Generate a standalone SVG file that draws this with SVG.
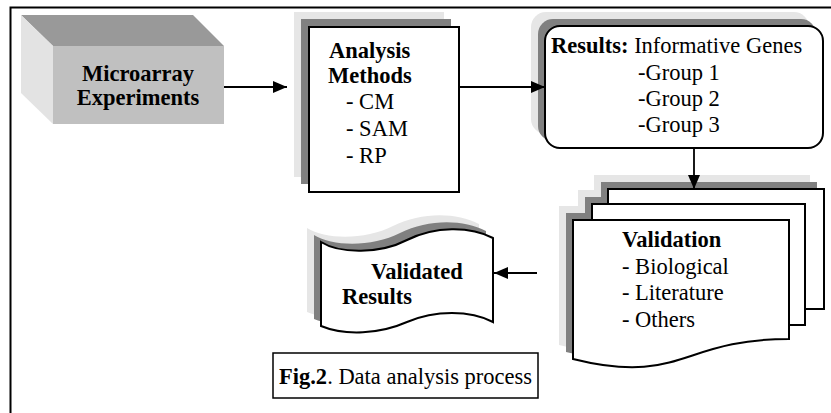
<svg xmlns="http://www.w3.org/2000/svg" width="831" height="413" viewBox="0 0 831 413">
  <style>
    .t { font-family: "Liberation Serif", "Times New Roman", serif; font-size: 22.5px; fill: #000; }
    .b { font-weight: bold; }
    .edge { stroke: #000; stroke-width: 2; fill: #fff; }
    .sh1 { fill: #e6e6e6; }
    .sh2 { fill: #808080; }
    .wire { stroke: #000; stroke-width: 1.8; fill: none; marker-end: url(#arrow); }
  </style>
  <defs>
    <marker id="arrow" markerUnits="userSpaceOnUse" markerWidth="14" markerHeight="12" refX="14" refY="6" orient="auto">
      <path d="M0,0 L14,6 L0,12 Z" fill="#000"/>
    </marker>
    <!-- stacked documents -->
    <rect id="pageBack" x="608" y="189" width="216" height="120"/>
    <rect id="pageMid" x="592" y="204" width="213" height="121"/>
    <path id="pageFront" d="M573,220 H789 V339 C681,339 681,386 573,359 Z"/>
    <!-- punched tape -->
    <path id="tape" d="M321,242 C340,254 380,254 407,240 C435,226 470,226 493,238 L493,322 C470,310 435,310 407,322 C380,334 345,336 321,326 Z"/>
  </defs>

  <rect x="0" y="0" width="831" height="413" fill="#fff"/>
  <!-- outer frame -->
  <rect x="10.5" y="7.5" width="900" height="500" fill="none" stroke="#000" stroke-width="2"/>

  <g id="microarray">
    <polygon points="21,15 193,15 224,46 53,46" fill="#999999"/>
    <polygon points="21,15 53,46 53,124 21,93" fill="#e3e3e3"/>
    <rect x="53" y="46" width="171" height="78" fill="#c0c0c0"/>
    <text class="t b" x="138" y="81" text-anchor="middle">Microarray</text>
    <text class="t b" x="138" y="105" text-anchor="middle">Experiments</text>
  </g>

  <g id="methods">
    <rect class="sh1" x="294" y="12" width="150" height="165"/>
    <rect class="sh2" x="301" y="19" width="150" height="165"/>
    <rect class="edge" x="309" y="27" width="150" height="165"/>
    <text class="t b" x="329" y="58">Analysis</text>
    <text class="t b" x="328" y="83">Methods</text>
    <text class="t" x="346" y="109">- CM</text>
    <text class="t" x="346" y="136">- SAM</text>
    <text class="t" x="346" y="163">- RP</text>
  </g>

  <g id="results">
    <rect class="sh1" x="531" y="12" width="278" height="122" rx="15"/>
    <rect class="sh2" x="538" y="19" width="278" height="122" rx="15"/>
    <rect class="edge" x="545" y="26" width="278" height="122" rx="15"/>
    <text class="t" x="551" y="53"><tspan class="b">Results:</tspan> Informative Genes</text>
    <text class="t" x="638" y="80">-Group 1</text>
    <text class="t" x="638" y="106">-Group 2</text>
    <text class="t" x="638" y="132">-Group 3</text>
  </g>

  <g id="validation">
    <g class="sh1" transform="translate(-14,-14)">
      <use href="#pageBack"/><use href="#pageMid"/><use href="#pageFront"/>
    </g>
    <g class="sh2" transform="translate(-7,-7)">
      <use href="#pageBack"/><use href="#pageMid"/><use href="#pageFront"/>
    </g>
    <use href="#pageBack" class="edge"/>
    <use href="#pageMid" class="edge"/>
    <use href="#pageFront" class="edge"/>
    <text class="t b" x="622" y="247">Validation</text>
    <text class="t" x="622" y="274">- Biological</text>
    <text class="t" x="622" y="300">- Literature</text>
    <text class="t" x="622" y="327">- Others</text>
  </g>

  <g id="validated">
    <use href="#tape" class="sh1" transform="translate(-14,-14)"/>
    <use href="#tape" class="sh2" transform="translate(-7,-7)"/>
    <use href="#tape" class="edge"/>
    <text class="t b" x="371" y="279">Validated</text>
    <text class="t b" x="342" y="304">Results</text>
  </g>

  <g id="caption">
    <rect x="273" y="353" width="265" height="45" fill="#fff" stroke="#000" stroke-width="1.5"/>
    <text class="t" x="279" y="384"><tspan class="b">Fig.2</tspan>. Data analysis process</text>
  </g>

  <g id="connectors">
    <line class="wire" x1="224" y1="87" x2="287" y2="87"/>
    <line class="wire" x1="459" y1="87" x2="545" y2="87"/>
    <line class="wire" x1="694" y1="148" x2="694" y2="189"/>
    <line class="wire" x1="537" y1="273" x2="494" y2="273"/>
  </g>
</svg>
